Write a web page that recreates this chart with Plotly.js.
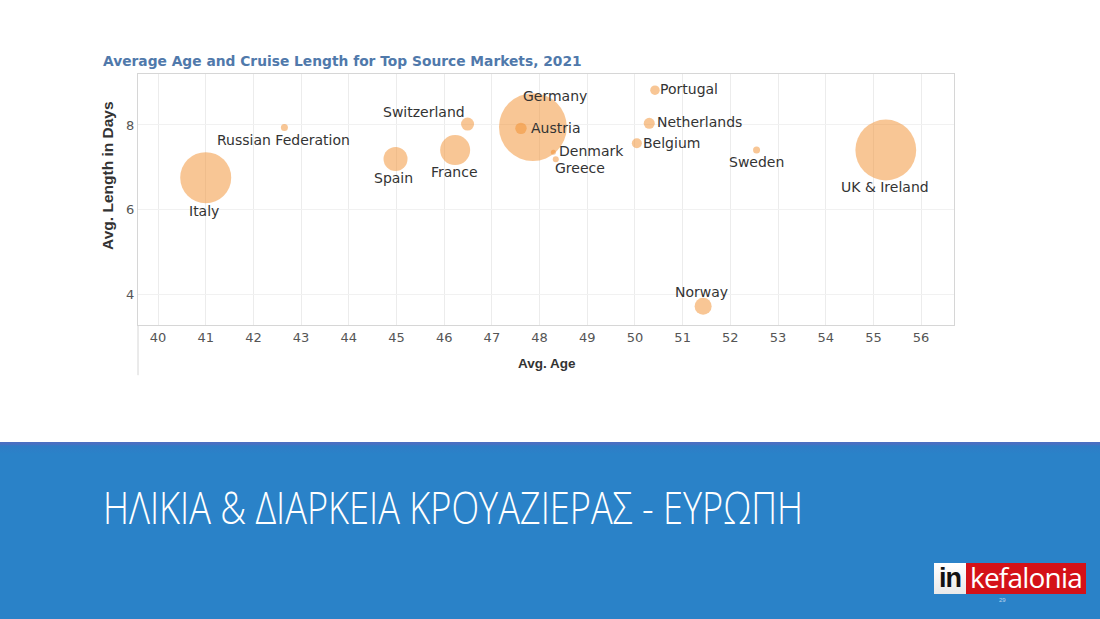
<!DOCTYPE html>
<html>
<head>
<meta charset="utf-8">
<script src="https://cdn.plot.ly/plotly-3.0.1.min.js"></script>
<style>
  html, body { margin: 0; padding: 0; background: #ffffff; }
  #page { position: relative; width: 1100px; height: 619px; overflow: hidden; background: #ffffff; }
  #chart { position: absolute; left: 0; top: 0; width: 1100px; height: 619px; }
  #band { position: absolute; left: 0; top: 442px; width: 1100px; height: 177px;
          background: linear-gradient(to bottom, #4a6fc2 0px, #4a6fc2 2px, #2f7cc6 4px, #2a82c8 12px, #2a82c8 100%); }
  #slideTitle { position: absolute; left: 103px; top: 484px; white-space: nowrap;
                font-family: "Open Sans", "Noto Sans", sans-serif; font-weight: 300; font-size: 45px;
                color: #ffffff; transform-origin: left top; line-height: 1; }
  #logo { position: absolute; left: 934px; top: 563px; height: 31px; display: flex; }
  #logoIn { width: 32px; height: 31px; background: linear-gradient(to bottom, #ffffff, #e9e9e9);
            font-family: "Liberation Sans", Arial, sans-serif; font-weight: bold; font-size: 27px; color: #111;
            line-height: 31px; text-align: center; letter-spacing: -1px; }
  #logoKef { width: 120px; height: 31px; background: #d41118; font-family: "Open Sans", "Liberation Sans", sans-serif;
             font-size: 28px; color: #ffffff; line-height: 29px; text-align: center; letter-spacing: -0.8px; }
  #pageNum { position: absolute; left: 999px; top: 597px; font-family: "Liberation Sans", sans-serif; font-size: 6px; color: #b9d4ee; }
</style>
</head>
<body>
<div id="page">
  <div id="band"></div>
  <div id="slideTitle">ΗΛΙΚΙΑ &amp; ΔΙΑΡΚΕΙΑ ΚΡΟΥΑΖΙΕΡΑΣ - ΕΥΡΩΠΗ</div>
  <div id="logo"><div id="logoIn">in</div><div id="logoKef">kefalonia</div></div>
  <div id="pageNum">29</div>
  <div id="chart"></div>
</div>
<script>
// ---- Data ----
const countries = ['Italy', 'Russian Federation', 'Spain', 'France', 'Switzerland', 'Germany', 'Austria',
                   'Denmark', 'Greece', 'Portugal', 'Netherlands', 'Belgium', 'Sweden', 'UK & Ireland', 'Norway'];
const avgAge = [41.0, 42.65, 44.98, 46.23, 46.49, 47.86, 47.61, 48.29, 48.34, 50.42, 50.30, 50.04, 52.55, 55.26, 51.43];
const avgLengthDays = [6.76, 7.94, 7.20, 7.41, 8.02, 7.95, 7.92, 7.36, 7.19, 8.82, 8.04, 7.57, 7.41, 7.41, 3.73];
// relative market volume (bubble area)
const marketVolume = [2600, 49, 576, 900, 169, 4600, 130, 25, 36, 90, 121, 100, 49, 3700, 289];

const xTickVals = [40, 41, 42, 43, 44, 45, 46, 47, 48, 49, 50, 51, 52, 53, 54, 55, 56];
const yTickVals = [4, 6, 8];

const chartTitle = 'Average Age and Cruise Length for Top Source Markets, 2021';
const xTitle = 'Avg. Age';
const yTitle = 'Avg. Length in Days';

// label placement (pixel offset of the label from its bubble centre)
const labelPlacement = {
  'Italy':              { dx: -2,  dy: 33,  anchor: 'center' },
  'Russian Federation': { dx: -1,  dy: 12,  anchor: 'center' },
  'Spain':              { dx: -2,  dy: 19,  anchor: 'center' },
  'France':             { dx: -1,  dy: 22,  anchor: 'center' },
  'Switzerland':        { dx: -44, dy: -12, anchor: 'center' },
  'Germany':            { dx: 22,  dy: -31, anchor: 'center' },
  'Austria':            { dx: 8,   dy: 0,   anchor: 'left' },
  'Denmark':            { dx: 4,   dy: -1,  anchor: 'left' },
  'Greece':             { dx: -3,  dy: 9,   anchor: 'left' },
  'Portugal':           { dx: 3,   dy: -1,  anchor: 'left' },
  'Netherlands':        { dx: 6,   dy: -1,  anchor: 'left' },
  'Belgium':            { dx: 4,   dy: 0,   anchor: 'left' },
  'Sweden':             { dx: 0,   dy: 12,  anchor: 'center' },
  'UK & Ireland':       { dx: -1,  dy: 37,  anchor: 'center' },
  'Norway':             { dx: -2,  dy: -14, anchor: 'center' }
};

const trace = {
  type: 'scatter',
  mode: 'markers',
  x: avgAge,
  y: avgLengthDays,
  text: countries,
  marker: {
    size: marketVolume,
    sizemode: 'area',
    sizeref: 2,
    color: '#f28e2b',
    opacity: 0.5,
    line: { width: 0 }
  },
  hoverinfo: 'text+x+y',
  cliponaxis: false
};

const labelFont = { family: 'DejaVu Sans, Verdana, sans-serif', size: 14, color: '#333333' };
const labelAnnotations = countries.map((c, i) => {
  const p = labelPlacement[c];
  return {
    text: c, x: avgAge[i], y: avgLengthDays[i], xref: 'x', yref: 'y',
    xshift: p.dx, yshift: -p.dy, xanchor: p.anchor, yanchor: 'middle',
    showarrow: false, font: labelFont
  };
});

const layout = {
  width: 1100,
  height: 619,
  margin: { l: 138, r: 146, t: 74, b: 294 },
  paper_bgcolor: 'rgba(0,0,0,0)',
  plot_bgcolor: '#ffffff',
  showlegend: false,
  xaxis: {
    range: [39.58, 56.69],
    tickvals: xTickVals,
    ticktext: xTickVals.map(String),
    showgrid: true,
    gridcolor: '#ececec',
    zeroline: false,
    showline: true,
    mirror: true,
    linecolor: '#d6d6d6',
    linewidth: 1,
    ticks: '',
    tickfont: { family: 'DejaVu Sans, sans-serif', size: 13, color: '#555555' }
  },
  yaxis: {
    range: [3.29, 9.2],
    tickvals: yTickVals,
    ticktext: yTickVals.map(String),
    showgrid: true,
    gridcolor: '#f1f1f1',
    zeroline: false,
    showline: true,
    mirror: true,
    linecolor: '#d6d6d6',
    linewidth: 1,
    ticks: '',
    tickfont: { family: 'DejaVu Sans, sans-serif', size: 13, color: '#555555' }
  },
  shapes: [
    { type: 'line', xref: 'paper', yref: 'paper', x0: 0, x1: 0, y0: -0.2, y1: 0,
      line: { color: '#d6d6d6', width: 1 } }
  ],
  annotations: labelAnnotations.concat([
    { text: chartTitle, xref: 'paper', yref: 'paper', x: -0.0453, y: 1.052, xanchor: 'left', yanchor: 'middle',
      showarrow: false, font: { family: 'DejaVu Sans, sans-serif', size: 13.8, color: '#5079ab', weight: 'bold' } },
    { text: xTitle, xref: 'paper', yref: 'paper', x: 0.5012, y: -0.155, xanchor: 'center', yanchor: 'middle',
      showarrow: false, font: { family: 'Liberation Sans, Arial, sans-serif', size: 13.5, color: '#333333', weight: 'bold' } },
    { text: yTitle, xref: 'paper', yref: 'paper', x: -0.0368, y: 0.594, xanchor: 'center', yanchor: 'middle',
      textangle: -90, showarrow: false,
      font: { family: 'Liberation Sans, Arial, sans-serif', size: 15.5, color: '#333333', weight: 'bold' } }
  ])
};

Plotly.newPlot('chart', [trace], layout, { displayModeBar: false, staticPlot: true });

// fit the slide title to its width in the reference
const st = document.getElementById('slideTitle');
const w = st.getBoundingClientRect().width;
st.style.transform = 'scaleX(' + (700 / w) + ')';
</script>
</body>
</html>
